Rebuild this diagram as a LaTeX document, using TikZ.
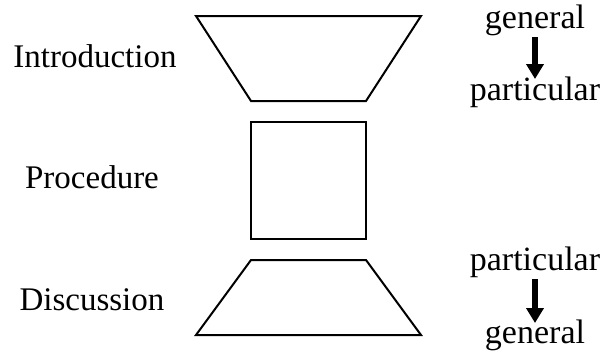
\documentclass[tikz,border=0pt]{standalone}
\usepackage{fontspec}
\setmainfont{Liberation Serif}
\usetikzlibrary{arrows.meta}
\begin{document}
\begin{tikzpicture}[x=1pt,y=-1pt,
  shapeline/.style={draw=black,line width=2pt,line join=miter},
  lbl/.style={font=\fontsize{33}{34}\selectfont,inner sep=0pt,anchor=base},
  side/.style={font=\fontsize{34}{35}\selectfont,inner sep=0pt,anchor=base},
  bigarrow/.style={line width=5.5pt,-{Triangle[width=17pt,length=15pt]}}]
\useasboundingbox (0,0) rectangle (602,351);
\draw[shapeline] (196,16) -- (421,16) -- (366,101) -- (251,101) -- cycle;
\draw[shapeline] (251,122) rectangle (366,239);
\draw[shapeline] (251,260) -- (366,260) -- (421,335) -- (196,335) -- cycle;
\node[lbl] (intro) at (95,67) {Introduction};
\node[lbl] (proc) at (92,188) {Procedure};
\node[lbl] (disc) at (92,310) {Discussion};
\node[side] (g1) at (535,28) {general};
\node[side] (p1) at (535,100) {particular};
\coordinate (a1s) at (535,37);
\coordinate (a1e) at (535,79);
\draw[bigarrow] (a1s) -- (a1e);
\node[side] (p2) at (535,270) {particular};
\node[side] (g2) at (535,343) {general};
\coordinate (a2s) at (535,279);
\coordinate (a2e) at (535,323);
\draw[bigarrow] (a2s) -- (a2e);
\end{tikzpicture}
\end{document}
